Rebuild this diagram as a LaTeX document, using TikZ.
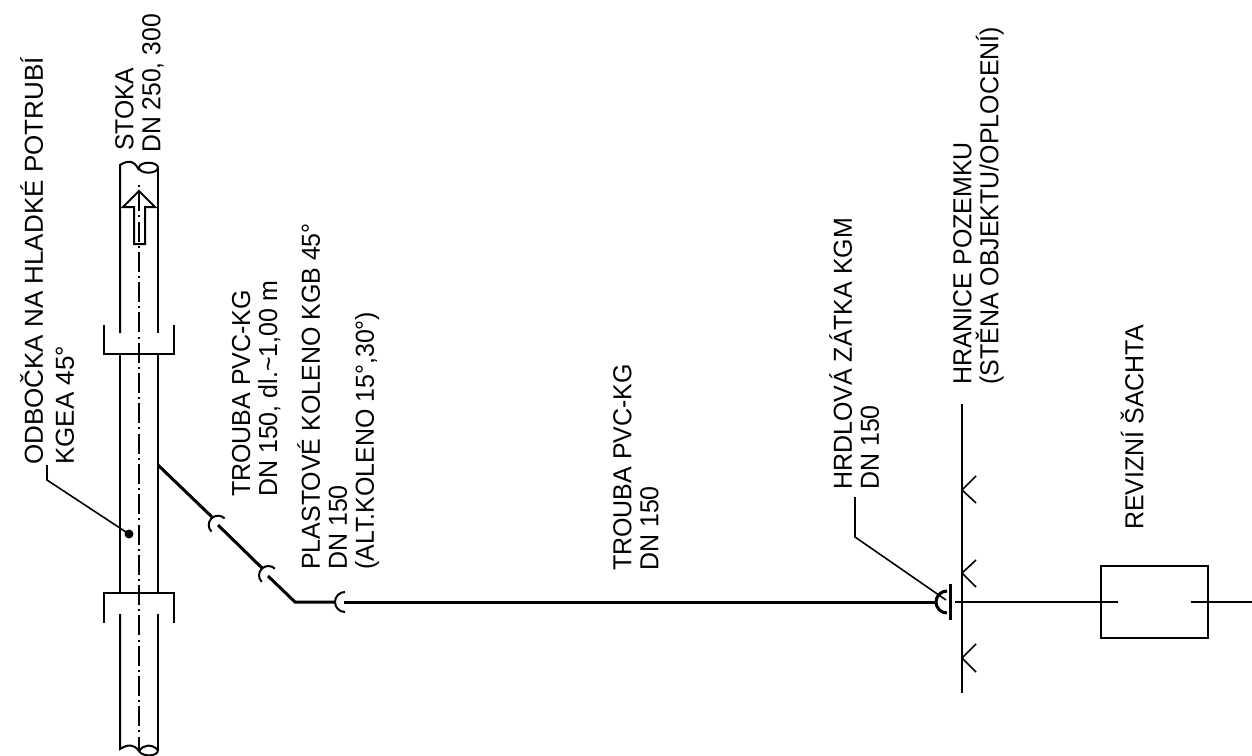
\documentclass[tikz,border=0pt]{standalone}
\usepackage{fontspec}
\setmainfont{Liberation Sans}
\usepackage{tikz}
\tikzset{
	popis/.style={rotate=90,xscale=#1,anchor=north west,align=left,inner sep=0pt,font=\fontsize{26}{27}\selectfont},
	popis/.default=0.96,
	pipe/.style={line width=2pt},
	wall/.style={line width=2pt},
	leader/.style={line width=1.6pt},
	potrubi/.style={line width=3pt},
	osa/.style={line width=1.8pt,dash pattern=on 20pt off 4.1pt on 2pt off 4.2pt,dash phase=24.1pt},
	joint/.style={line width=2pt}
}
\begin{document}
\begin{tikzpicture}[x=1pt,y=-1pt]
		\useasboundingbox (0,0) rectangle (1252,755);
		% stoka
		\draw[pipe] (120,333)--(120,165) .. controls (128,160) and (134,160) .. (139,170);
		\draw[pipe] (158,333)--(158,167);
		\draw[pipe] (148.5,167.7) ellipse (9.5 and 5);
		\draw[pipe] (120,593)--(120,354);
		\draw[pipe] (158,593)--(158,354);
		\draw[pipe] (120,614)--(120,749) .. controls (128,744) and (134,744) .. (139,751);
		\draw[pipe] (158,614)--(158,750);
		\draw[pipe] (139,751) .. controls (144,744) and (152,744) .. (158,750) .. controls (158,757) and (142,757) .. (139,751);
		\draw[osa] (139,185)--(139,750);
		% hrdla
		\draw[pipe] (104,325)--(104,354)--(174,354)--(174,325);
		\draw[pipe] (104,623)--(104,593)--(174,593)--(174,623);
		% sipka
		\draw[pipe] (134,244)--(134,207)--(123,207)--(139,191)--(155,207)--(145,207)--(145,244)--cycle;
		% pripojka
		\draw[potrubi] (158,465)--(212,517);
		\draw[potrubi] (218,525)--(262,568);
		\draw[potrubi] (268,576)--(295,602)--(335,602);
		\draw[potrubi] (344,602)--(936,602);
		\draw[joint] (224.6,518.4) arc (-45:-225:9.3);
		\draw[joint] (274.9,568.7) arc (-45:-225:9.3);
		\draw[joint] (345,592) arc (-90:-270:10);
		\draw[potrubi] (947,591) arc (-90:-270:11);
		\draw[line width=3pt] (950,584)--(950,620);
		% hranice
		\draw[wall] (962,404)--(962,693);
		\draw[leader] (976,476)--(962,490)--(976,503);
		\draw[leader] (976,560)--(962,573)--(976,587);
		\draw[leader] (976,644)--(962,658)--(976,672);
		\node[rectangle,draw,line width=2pt,minimum width=107pt,minimum height=72pt,inner sep=0pt] (sachta) at (1154.7,602) {};
		\draw[leader] (955,602)--(1118,602);
		\draw[leader] (1191,602)--(1252,602);
		% odkazy
		\draw[leader] (855,497)--(855,537)--(946,600);
		\draw[leader] (47,465)--(47,480)--(129,534);
		\fill (129,534) circle (4.5);
		% popisy
		\node[popis=1] (odbocka) at (20,465) {ODBOČKA NA HLADKÉ POTRUBÍ\\[4pt]KGEA 45°};
		\node[popis=0.95] (stoka) at (115,151) {STOKA\\\hspace*{-2pt}DN 250, 300};
		\node[popis] (trouba) at (231.7,497) {TROUBA PVC-KG\\DN 150, dl.\textasciitilde 1,00 m};
		\node[popis] (koleno) at (297,570) {PLASTOVÉ KOLENO KGB 45°\\DN 150\\(ALT.KOLENO 15°,30°)};
		\node[popis] (trouba2) at (613,571) {TROUBA PVC-KG\\DN 150};
		\node[popis] (zatka) at (829,490) {HRDLOVÁ ZÁTKA KGM\\DN 150};
		\node[popis] (hranice) at (953,385) {HRANICE POZEMKU\\(STĚNA OBJEKTU/OPLOCENÍ)};
		\node[popis] (revize) at (1120.5,530) {REVIZNÍ ŠACHTA};
	\end{tikzpicture}
\end{document}
